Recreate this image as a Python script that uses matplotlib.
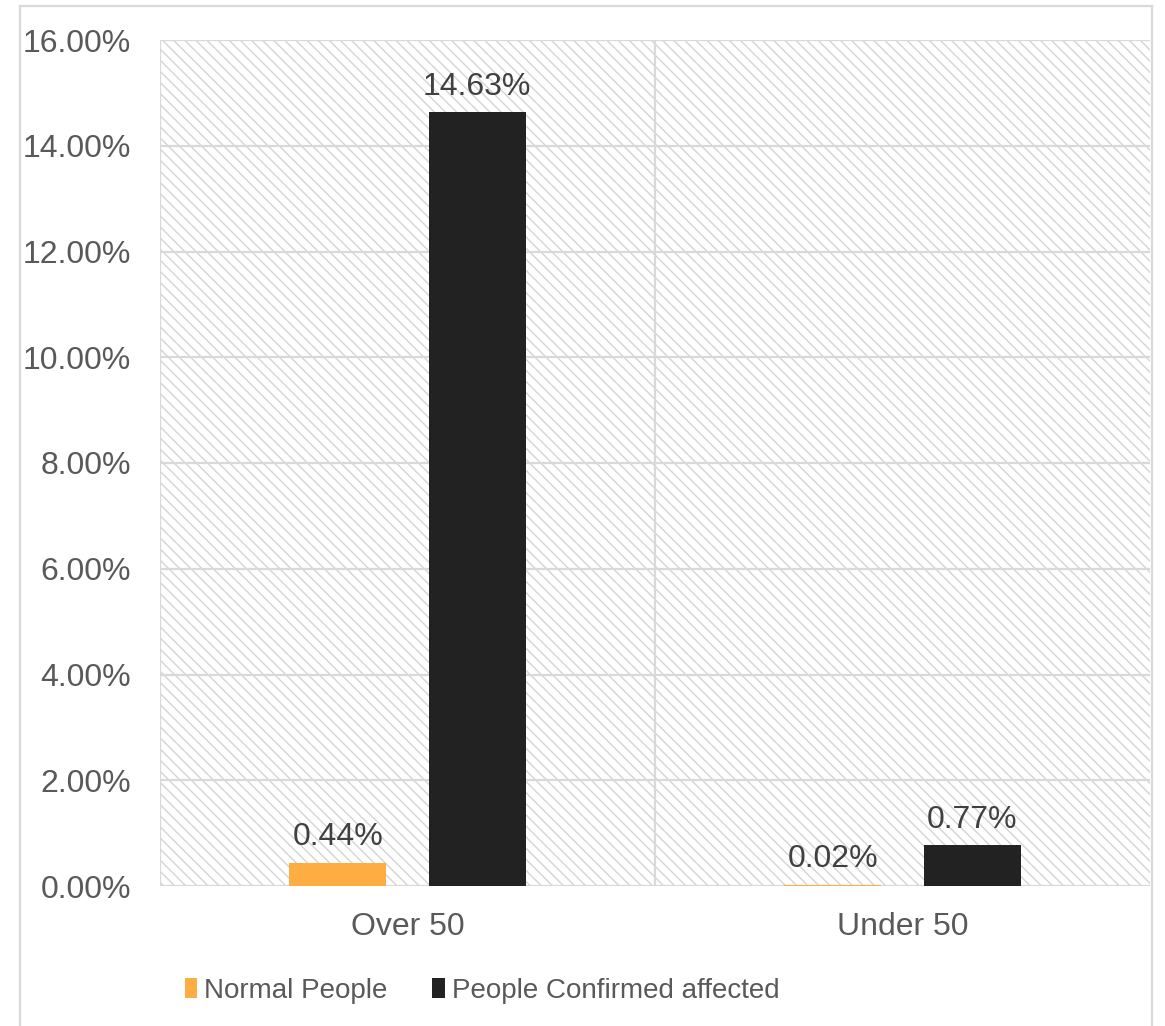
import matplotlib
matplotlib.use("Agg")
import matplotlib.pyplot as plt
from matplotlib.patches import Rectangle
from matplotlib.lines import Line2D
import numpy as np

categories = ["Over 50", "Under 50"]
normal_people = [0.44, 0.02]
confirmed_affected = [14.63, 0.77]
series_names = ["Normal People", "People Confirmed affected"]
y_ticks = [0, 2, 4, 6, 8, 10, 12, 14, 16]

ORANGE = "#FDAD42"
BLACK = "#222222"
GRID = "#D9D9D9"
TICK_TXT = "#595959"
LABEL_TXT = "#404040"

plt.rcParams["font.family"] = ["Liberation Sans", "DejaVu Sans"]
plt.rcParams["hatch.linewidth"] = 1.0
plt.rcParams["hatch.color"] = "#D4D4D4"

W, H = 1165, 1026
fig = plt.figure(figsize=(W / 100, H / 100), dpi=100)
ax = fig.add_axes([160 / W, 1 - 886 / H, (1150 - 160) / W, (886 - 40) / H])

x = np.arange(len(categories))
bw = 0.195
off = 0.141

# hatched plot-area background
ax.add_patch(Rectangle((-0.5, 0), 2.0, 16, facecolor="white", edgecolor="#D4D4D4",
                       hatch="\\\\\\", linewidth=0, zorder=0))

for yv in y_ticks:
    ax.axhline(yv, color=GRID, linewidth=1.6, zorder=1)
for xv in [-0.5, 0.5]:
    ax.axvline(xv, color=GRID, linewidth=1.6, zorder=1)

b1 = ax.bar(x - off, normal_people, bw, color=ORANGE, zorder=3, label=series_names[0])
b2 = ax.bar(x + off, confirmed_affected, bw, color=BLACK, zorder=3, label=series_names[1])

for rects, vals in [(b1, normal_people), (b2, confirmed_affected)]:
    for r, v in zip(rects, vals):
        ax.text(r.get_x() + r.get_width() / 2, v + 0.2, f"{v:.2f}%",
                ha="center", va="bottom", fontsize=23, color=LABEL_TXT, zorder=4)

ax.set_xlim(-0.5, 1.5)
ax.set_ylim(0, 16)
ax.set_yticks(y_ticks)
ax.set_yticklabels([f"{v:.2f}%" for v in y_ticks])
ax.set_xticks(x)
ax.set_xticklabels(categories)
ax.tick_params(axis="both", length=0, labelsize=23, labelcolor=TICK_TXT)
ax.tick_params(axis="y", pad=21)
ax.tick_params(axis="x", pad=19)
for s in ax.spines.values():
    s.set_visible(False)

leg = fig.legend(handles=[b1, b2], labels=series_names, loc="center",
                 bbox_to_anchor=(482 / W, 1 - 991 / H), ncol=2, frameon=False,
                 prop={"size": 20},
                 handlelength=0.45, handleheight=0.75, handletextpad=0.25, columnspacing=1.6)
for t in leg.get_texts():
    t.set_color(TICK_TXT)

# outer chart frame (left, top, right)
fx0, fx1, fy1 = 20 / W, 1152 / W, 1 - 6 / H
for xs, ys in [([fx0, fx0], [0, fy1]), ([fx0, fx1], [fy1, fy1]), ([fx1, fx1], [fy1, 0])]:
    fig.add_artist(Line2D(xs, ys, color=GRID, linewidth=1.6, transform=fig.transFigure))

fig.savefig("out.png", dpi=100, facecolor="white")
